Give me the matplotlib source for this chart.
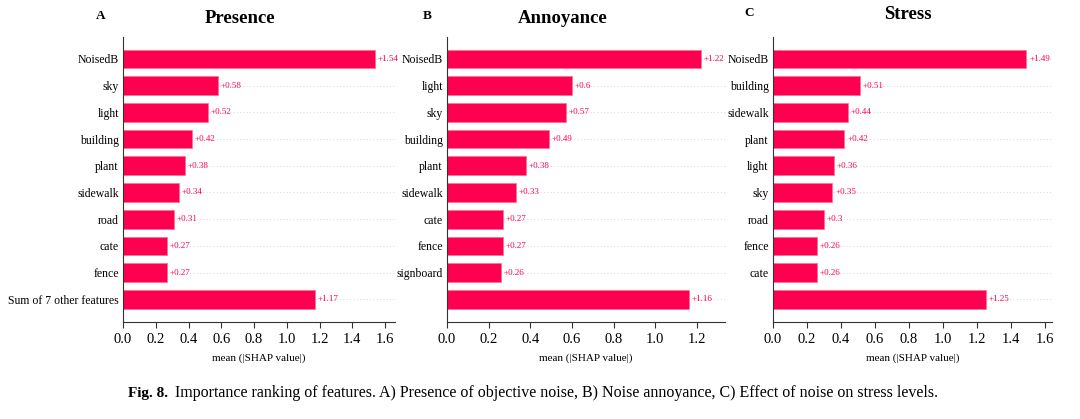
import numpy as np
import matplotlib
matplotlib.use('Agg')
import matplotlib.pyplot as plt

plt.rcParams['font.family'] = ['Liberation Serif', 'DejaVu Serif']

#%%
# Data

feat_a = ['NoisedB', 'sky', 'light', 'building', 'plant', 'sidewalk',
          'road', 'cate', 'fence', 'Sum of 7 other features']
val_a = [1.54, 0.58, 0.52, 0.42, 0.38, 0.34, 0.31, 0.27, 0.27, 1.17]

feat_b = ['NoisedB', 'light', 'sky', 'building', 'plant', 'sidewalk',
          'cate', 'fence', 'signboard', '']
val_b = [1.22, 0.6, 0.57, 0.49, 0.38, 0.33, 0.27, 0.27, 0.26, 1.16]

feat_c = ['NoisedB', 'building', 'sidewalk', 'plant', 'light', 'sky',
          'road', 'fence', 'cate', '']
val_c = [1.49, 0.51, 0.44, 0.42, 0.36, 0.35, 0.3, 0.26, 0.26, 1.25]

titles = ['Presence', 'Annoyance', 'Stress']
letters = ['A', 'B', 'C']
xmax = [1.66, 1.335, 1.64]
xticks = [np.arange(0, 1.61, 0.2), np.arange(0, 1.21, 0.2), np.arange(0, 1.61, 0.2)]

red = '#ff0051'

#%%
# Plot

fig = plt.figure(figsize=(10.8, 4.19), dpi=100)

boxes = [[0.1139, 0.2315, 0.2518, 0.6802],
         [0.4139, 0.2315, 0.2574, 0.6802],
         [0.7157, 0.2315, 0.2583, 0.6802]]

data = [(feat_a, val_a), (feat_b, val_b), (feat_c, val_c)]

for i in range(3):
    ax = fig.add_axes(boxes[i])
    feats, vals = data[i]
    y = np.arange(len(vals))

    for yy in y:
        ax.axhline(yy, color='#cccccc', lw=0.6, dashes=(1, 3), zorder=-1)

    ax.barh(y, vals, height=0.7, color=red, edgecolor='#ff6f95', lw=0.5)

    for yy, v in zip(y, vals):
        ax.text(v + xmax[i] * 0.01, yy, '+%g' % v, color=red,
                fontsize=6.5, va='center', ha='left')

    ax.set_yticks(y)
    ax.set_yticklabels(feats, fontsize=8.5)
    ax.set_ylim(9.85, -0.82)
    ax.set_xlim(0, xmax[i])
    ax.set_xticks(xticks[i])
    ax.set_xticklabels(['%.1f' % t for t in xticks[i]], fontsize=10.5)
    ax.tick_params(axis='y', length=0, pad=3)
    ax.tick_params(axis='x', length=4, width=0.8, color='#333333', pad=4)

    ax.spines['top'].set_visible(False)
    ax.spines['right'].set_visible(False)
    ax.spines['left'].set_color('#333333')
    ax.spines['bottom'].set_color('#333333')

    ax.set_xlabel('mean (|SHAP value|)', fontsize=8, labelpad=5)

# titles and panel letters
fig.text(0.222, 0.957, titles[0], fontsize=13.5, fontweight='bold', ha='center', va='center')
fig.text(0.521, 0.957, titles[1], fontsize=13.5, fontweight='bold', ha='center', va='center')
fig.text(0.841, 0.965, titles[2], fontsize=13.5, fontweight='bold', ha='center', va='center')

fig.text(0.093, 0.962, letters[0], fontsize=9.5, fontweight='bold', ha='center', va='center')
fig.text(0.396, 0.962, letters[1], fontsize=9.5, fontweight='bold', ha='center', va='center')
fig.text(0.694, 0.968, letters[2], fontsize=9.5, fontweight='bold', ha='center', va='center')

# caption
fig.text(0.1555, 0.062, 'Fig. 8.', fontsize=11, fontweight='bold', ha='right', va='center')
fig.text(0.162, 0.062, 'Importance ranking of features. A) Presence of objective noise, '
         'B) Noise annoyance, C) Effect of noise on stress levels.',
         fontsize=11.5, ha='left', va='center')

fig.savefig('out.png', dpi=100)
